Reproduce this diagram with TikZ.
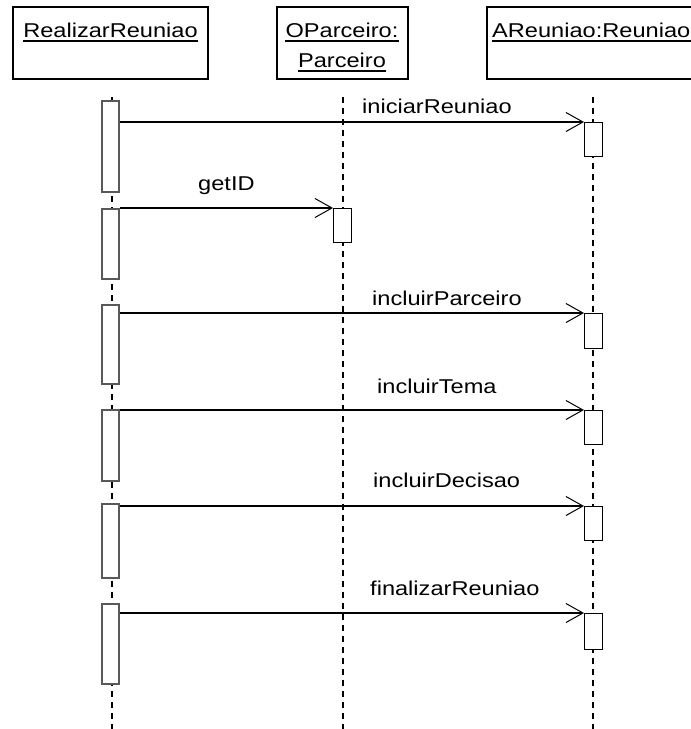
\documentclass[tikz,border=0pt]{standalone}
\usepackage{fontspec}
\setmainfont{Liberation Sans}[FakeStretch=1.18]
\usetikzlibrary{arrows.meta}
\tikzset{
  objbox/.style={draw=black, line width=1.6pt, inner sep=0pt, minimum height=72pt},
  objtxt/.style={inner sep=0pt, font=\fontsize{20}{24}\selectfont},
  uline/.style={line width=1.3pt},
  lifeline/.style={line width=1.2pt, dash pattern=on 6pt off 5pt},
  actL/.style={draw=black!65, fill=white, line width=1.6pt, inner sep=0pt, minimum width=17pt, anchor=north},
  actR/.style={draw=black, fill=white, line width=1.3pt, inner sep=0pt, minimum width=18pt, anchor=north west},
  msg/.style={line width=1.5pt, -{Straight Barb[length=17pt,width=19pt,line width=1pt]}},
  lbl/.style={anchor=base west, inner sep=0pt, font=\fontsize{20}{24}\selectfont},
}
\begin{document}
\begin{tikzpicture}[x=1pt,y=-1pt]
\useasboundingbox (0,0) rectangle (691,729);
\clip (0,0) rectangle (691,729);
\fill[white] (0,0) rectangle (691,729);
% objects
\node[objbox, minimum width=195pt] (o1) at (110.5,43) {};
\node[objbox, minimum width=131pt] (o2) at (342.5,43) {};
\node[objbox, minimum width=213pt] (o3) at (593.5,43) {};
\node[objtxt, anchor=base] (t1) at (110.5,37) {RealizarReuniao};
\node[objtxt, anchor=base] (t2a) at (342,37) {OParceiro:};
\node[objtxt, anchor=base] (t2b) at (342,67) {Parceiro};
\node[objtxt, anchor=base west] (t3) at (492,37) {AReuniao:Reuniao};
\foreach \t in {t1,t2a,t2b,t3}
  \draw[uline] ([yshift=-4pt]\t.base west) -- ([yshift=-4pt]\t.base east);
% lifelines
\coordinate (l1a) at (112,97); \coordinate (l1b) at (112,729);
\coordinate (l2a) at (343,97); \coordinate (l2b) at (343,729);
\coordinate (l3a) at (593,97); \coordinate (l3b) at (593,729);
\draw[lifeline] (l1a) -- (l1b);
\draw[lifeline] (l2a) -- (l2b);
\draw[lifeline] (l3a) -- (l3b);
% left activations
\node[actL, minimum height=91pt] (a1) at (110.5,100) {};
\node[actL, minimum height=70pt] (a2) at (110.5,208) {};
\node[actL, minimum height=79pt] (a3) at (110.5,304) {};
\node[actL, minimum height=71pt] (a4) at (110.5,409) {};
\node[actL, minimum height=74pt] (a5) at (110.5,503) {};
\node[actL, minimum height=80pt] (a6) at (110.5,603) {};
% target activations
\node[actR, minimum height=34pt] (b1) at (584,122) {};
\node[actR, minimum height=34pt] (b2) at (333,208) {};
\node[actR, minimum height=35pt] (b3) at (584,313) {};
\node[actR, minimum height=34pt] (b4) at (584,410) {};
\node[actR, minimum height=34pt] (b5) at (584,506) {};
\node[actR, minimum height=36pt] (b6) at (584,613) {};
% messages
\draw[msg] (a1.north east |- b1.north west) -- (b1.north west);
\draw[msg] (a2.north east |- b2.north west) -- (b2.north west);
\draw[msg] (a3.north east |- b3.north west) -- (b3.north west);
\draw[msg] (a4.north east |- b4.north west) -- (b4.north west);
\draw[msg] (a5.north east |- b5.north west) -- (b5.north west);
\draw[msg] (a6.north east |- b6.north west) -- (b6.north west);
% labels
\node[lbl] (m1) at (362,113) {iniciarReuniao};
\node[lbl] (m2) at (198,190) {getID};
\node[lbl] (m3) at (372,305) {incluirParceiro};
\node[lbl] (m4) at (377,393) {incluirTema};
\node[lbl] (m5) at (373,487) {incluirDecisao};
\node[lbl] (m6) at (370,595) {finalizarReuniao};
\end{tikzpicture}
\end{document}
